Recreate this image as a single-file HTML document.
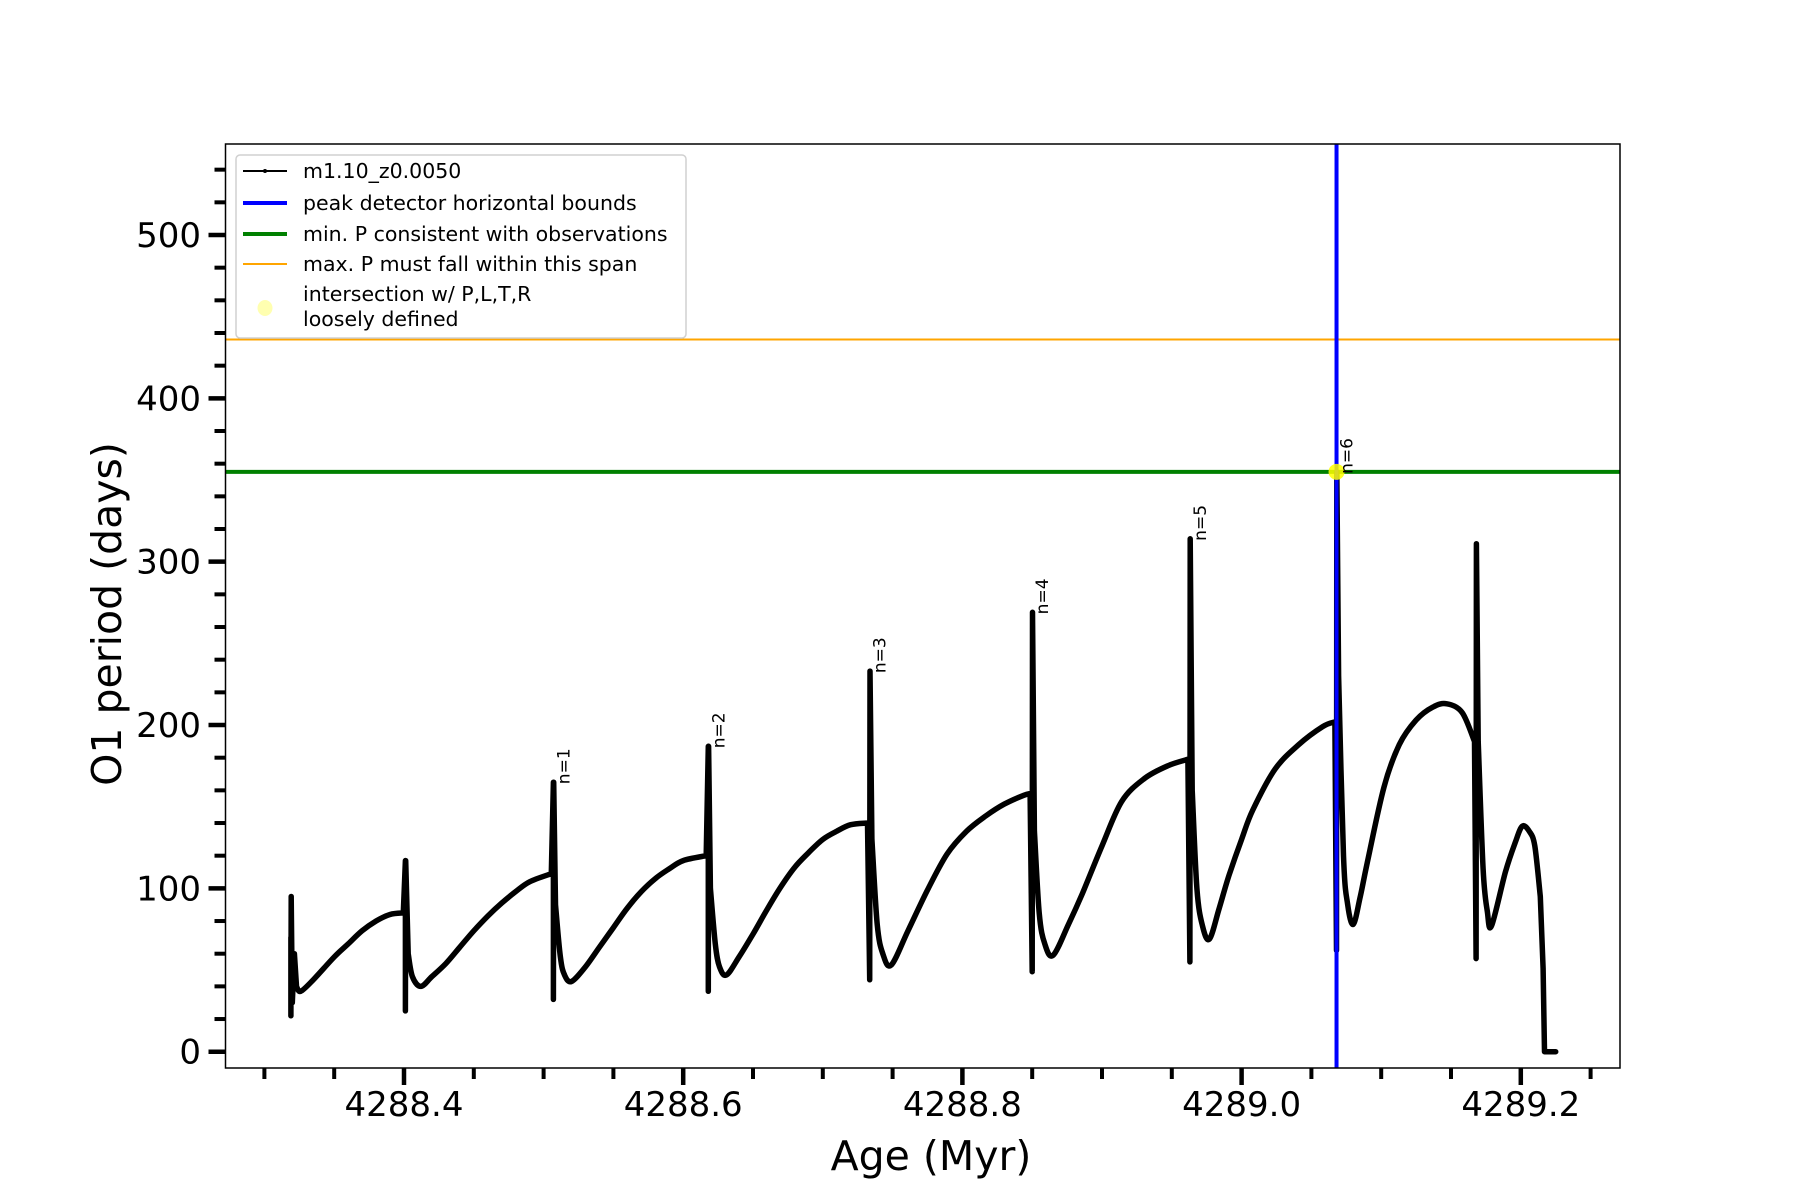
<!DOCTYPE html>
<html><head><meta charset="utf-8"><style>
html,body{margin:0;padding:0;background:#fff;}
svg{display:block;font-family:"DejaVu Sans","Liberation Sans",sans-serif;}
</style></head><body>
<svg id="chart" width="1800" height="1200" viewBox="0 0 1800 1200" xmlns="http://www.w3.org/2000/svg">
<rect x="0" y="0" width="1800" height="1200" fill="#fff"/>
<g id="plot"></g>
</svg>
<script>
// ---- data ----
const ages = [
4288.319,4288.319,4288.3192,4288.320,4288.3215,4288.323,4288.326,4288.335,4288.35,4288.36,4288.37,4288.38,4288.39,4288.3995,
4288.401,4288.401,4288.4012,4288.403,4288.406,4288.412,4288.42,4288.43,4288.44,4288.45,4288.46,4288.47,4288.48,4288.49,4288.5055,
4288.507,4288.507,4288.5072,4288.5085,4288.512,4288.515,4288.520,4288.53,4288.54,4288.55,4288.56,4288.57,4288.58,4288.59,4288.60,4288.6165,
4288.618,4288.618,4288.6182,4288.6195,4288.623,4288.626,4288.631,4288.64,4288.65,4288.66,4288.67,4288.68,4288.69,4288.70,4288.71,4288.72,4288.732,
4288.7336,4288.7336,4288.7338,4288.7352,4288.739,4288.743,4288.749,4288.761,4288.775,4288.789,4288.803,4288.817,4288.830,4288.844,4288.8485,
4288.850,4288.850,4288.8502,4288.8516,4288.855,4288.859,4288.865,4288.876,4288.886,4288.900,4288.914,4288.930,4288.947,4288.9615,
4288.963,4288.963,4288.9632,4288.9646,4288.968,4288.972,4288.977,4288.984,4288.991,4289.000,4289.008,4289.024,4289.041,4289.058,4289.0668,
4289.068,4289.068,4289.0682,4289.0695,4289.073,4289.076,4289.080,4289.085,4289.090,4289.102,4289.113,4289.125,4289.137,4289.147,4289.158,4289.1668,
4289.168,4289.168,4289.1682,4289.1695,4289.173,4289.176,4289.179,4289.189,4289.196,4289.201,4289.206,4289.210,4289.214,4289.216,4289.217,4289.225
];
const periods = [
70,22,95,30,60,40,37,44,58,66,74,80,84,85,
117,25,117,60,46,40,46,54,64,74,83,91,98,104,109,
165,32,165,90,58,47,43,52,64,76,88,98,106,112,117,120,
187,37,187,100,66,52,47,58,72,87,101,113,122,130,135,139,140,
44,44,233,130,78,60,53,74,99,121,135,144.5,151.6,157,158,
49,49,269,135,85,66,59,78,97,126,153,167,175,179,
55,56,314,160,100,77,69,88,108,130,148,173,188,199,202,
62,62,355,230,120,90,78,95,115.6,162,188,203,211,213,207.6,190,
57,57,311,190,112,86,77,110,128,138,135,126,95,51,0,0
];
const peakAges = [4288.507,4288.618,4288.7336,4288.850,4288.963,4289.068];
const peakPeriods = [165,187,233,269,314,355];
const peakLabels = ["n=1","n=2","n=3","n=4","n=5","n=6"];
const xTicks = [4288.4,4288.6,4288.8,4289.0,4289.2];
const xTickLabels = ["4288.4","4288.6","4288.8","4289.0","4289.2"];
const yTicks = [0,100,200,300,400,500];
const yTickLabels = ["0","100","200","300","400","500"];
const boundAge = [4289.068];
const minP = [355];
const maxP = [436];

// ---- axes ----
const L=225.5,R=1620,T=144,B=1068;
const X = v => 404 + (v-4288.4)*1396;
const Y = v => 1051.7 - v*1.6334;
const NS="http://www.w3.org/2000/svg";
const g=document.getElementById('plot');
function mk(tag,attrs,parent){const e=document.createElementNS(NS,tag);for(const k in attrs)e.setAttribute(k,attrs[k]);(parent||g).appendChild(e);return e;}

const clipDefs=mk('defs',{});
const cp=mk('clipPath',{id:'clip'},clipDefs);
mk('rect',{x:L,y:T,width:R-L,height:B-T},cp);
const inner=mk('g',{'clip-path':'url(#clip)'});

let e=mk('line',{x1:L,x2:R,y1:Y(maxP[0]),y2:Y(maxP[0]),stroke:'#ffa500','stroke-width':2},inner);


e=mk('line',{x1:L,x2:R,y1:Y(minP[0]),y2:Y(minP[0]),stroke:'#008000','stroke-width':4},inner);



// series with smoothing on gradual segments
const P=ages.map((a,i)=>[X(a),Y(periods[i])]);
const smooth=i=> (i>=0 && i<P.length-1 && (ages[i+1]-ages[i])>0.0025 && !(i+2<P.length && ages[i+2]===ages[i+1]));
let d='M'+P[0][0].toFixed(1)+' '+P[0][1].toFixed(1);
for(let i=0;i<P.length-1;i++){
  const p1=P[i],p2=P[i+1];
  if(!smooth(i)){d+='L'+p2[0].toFixed(1)+' '+p2[1].toFixed(1);continue;}
  const p0=smooth(i-1)?P[i-1]:p1;
  const p3=smooth(i+1)?P[i+2]:p2;
  const c1=[p1[0]+(p2[0]-p0[0])/6,p1[1]+(p2[1]-p0[1])/6];
  const c2=[p2[0]-(p3[0]-p1[0])/6,p2[1]-(p3[1]-p1[1])/6];
  d+='C'+c1[0].toFixed(1)+' '+c1[1].toFixed(1)+' '+c2[0].toFixed(1)+' '+c2[1].toFixed(1)+' '+p2[0].toFixed(1)+' '+p2[1].toFixed(1);
}
e=mk('path',{d:d,fill:'none',stroke:'#000','stroke-width':5.5,'stroke-linejoin':'round','stroke-linecap':'round'},inner);



e=mk('line',{x1:X(boundAge[0]),x2:X(boundAge[0]),y1:T,y2:B,stroke:'#0000ff','stroke-width':4},inner);



e=mk('circle',{cx:X(boundAge[0]),cy:Y(minP[0]),r:8,fill:'#ffff00','fill-opacity':0.85},inner);



for(let i=0;i<peakAges.length;i++){
  const x=X(peakAges[i])+16,y=Y(peakPeriods[i])+2;
  const t=mk('text',{x:x,y:y,'font-size':17,fill:'#000',transform:`rotate(-90 ${x} ${y})`});
  t.textContent=peakLabels[i];
  
  
}

e=mk('rect',{x:L,y:T,width:R-L,height:B-T,fill:'none',stroke:'#000','stroke-width':1.5});



for(let v=0;v<=540;v+=20){
  const major=(v%100===0);
  e=mk('line',{x1:L,x2:L-(major?17:11),y1:Y(v),y2:Y(v),stroke:'#000','stroke-width':major?4.5:4});
  
  
}
for(let i=0;i<yTicks.length;i++){
  const t=mk('text',{x:201,y:Y(yTicks[i])+12,'font-size':34,'text-anchor':'end',fill:'#000'});
  t.textContent=yTickLabels[i];
  
  
}
for(let k=0;k<=19;k++){
  const v=4288.3+k*0.05;
  const major=(Math.abs(((v-4288.4)/0.2)-Math.round((v-4288.4)/0.2))<1e-6);
  e=mk('line',{x1:X(v),x2:X(v),y1:B,y2:B+(major?17:11),stroke:'#000','stroke-width':major?4.5:4});
  
  
}
for(let i=0;i<xTicks.length;i++){
  const t=mk('text',{x:X(xTicks[i]),y:1116,'font-size':34,'text-anchor':'middle',fill:'#000'});
  t.textContent=xTickLabels[i];
  
  
}
let t=mk('text',{x:931,y:1170,'font-size':41,'text-anchor':'middle',fill:'#000'});
t.textContent='Age (Myr)';


t=mk('text',{x:121,y:614,'font-size':41,'text-anchor':'middle',fill:'#000',transform:'rotate(-90 121 614)'});
t.textContent='O1 period (days)';



// legend
const lg=mk('g',{});


mk('rect',{x:236,y:155,width:450,height:183,rx:4,fill:'#fff','fill-opacity':0.85,stroke:'#d0d0d0','stroke-width':1.5},lg);
const items=[
 {y:171,color:'#000',w:2,label:'m1.10_z0.0050',name:'legend-entry-series'},
 {y:203,color:'#0000ff',w:4,label:'peak detector horizontal bounds',name:'legend-entry-bounds'},
 {y:234,color:'#008000',w:4,label:'min. P consistent with observations',name:'legend-entry-min-p'},
 {y:264,color:'#ffa500',w:2,label:'max. P must fall within this span',name:'legend-entry-max-p'}
];
for(const it of items){
  const gg=mk('g',{},lg);
  
  
  mk('line',{x1:243,x2:287,y1:it.y,y2:it.y,stroke:it.color,'stroke-width':it.w},gg);
  const tt=mk('text',{x:303,y:it.y+7,'font-size':20.5,fill:'#000'},gg);
  tt.textContent=it.label;
}
const gi=mk('g',{},lg);


mk('ellipse',{cx:265,cy:308,rx:7.5,ry:8,fill:'#ffffb0'},gi);
let t1=mk('text',{x:303,y:301,'font-size':20.5,fill:'#000'},gi);t1.textContent='intersection w/ P,L,T,R';
let t2=mk('text',{x:303,y:326,'font-size':20.5,fill:'#000'},gi);t2.textContent='loosely defined';
mk('circle',{cx:265,cy:171,r:2,fill:'#000'},lg);
</script>
</body></html>
